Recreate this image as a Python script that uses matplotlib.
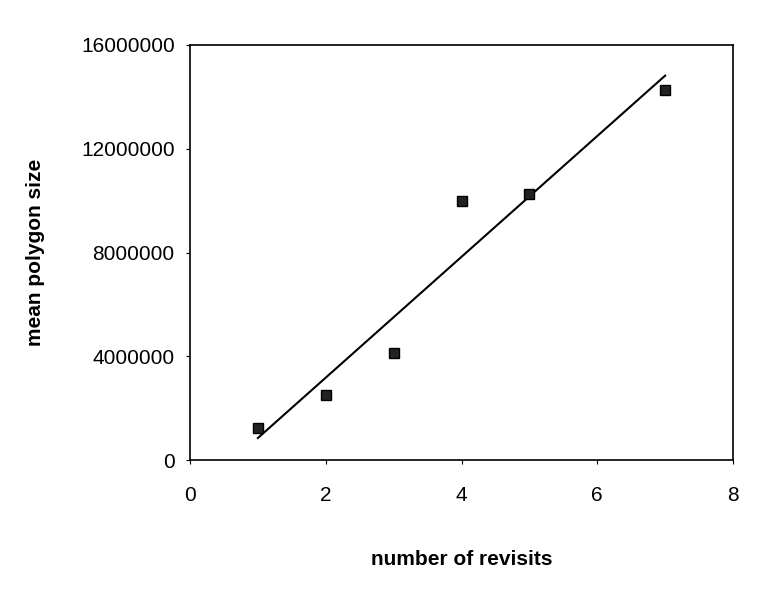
import matplotlib.pyplot as plt
import numpy as np

revisits = np.array([1, 2, 3, 4, 5, 7])
mean_size = np.array([1230000, 2500000, 4120000, 9980000, 10250000, 14260000])

plt.rcParams['font.family'] = ['Liberation Sans', 'DejaVu Sans']

fig = plt.figure(figsize=(7.67, 6.09), dpi=100)
ax = fig.add_axes([190 / 767, 1 - 460 / 609, 543 / 767, 415 / 609])

# linear trend line
slope, intercept = np.polyfit(revisits, mean_size, 1)
xs = np.array([revisits.min(), revisits.max()])
ax.plot(xs, slope * xs + intercept, color="black", lw=1.5)
ax.plot(revisits, mean_size, linestyle="none", marker="s", markersize=7,
        color="#222222", markeredgecolor="black")

ax.set_xlim(0, 8)
ax.set_ylim(0, 16000000)
ax.set_xticks([0, 2, 4, 6, 8])
ax.set_yticks([0, 4000000, 8000000, 12000000, 16000000])
ax.set_yticklabels(["0", "4000000", "8000000", "12000000", "16000000"])
ax.tick_params(labelsize=15, length=3, width=0.8, direction="out")
ax.tick_params(axis="x", pad=16)
ax.tick_params(axis="y", pad=8)
for s in ax.spines.values():
    s.set_linewidth(1.2)

ax.set_xlabel("number of revisits", fontsize=15, fontweight="bold", labelpad=32)
ax.set_ylabel("mean polygon size", fontsize=15, fontweight="bold", labelpad=26)

fig.savefig("out.png", dpi=100)
